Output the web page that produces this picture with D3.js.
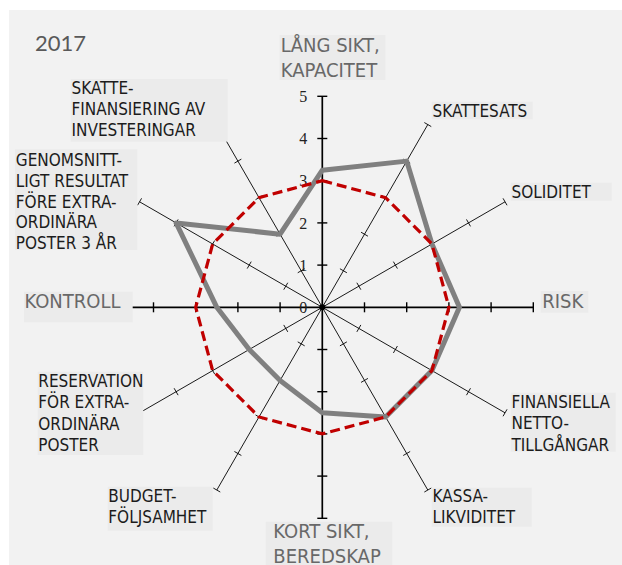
<!DOCTYPE html>
<html>
<head>
<meta charset="utf-8">
<script src="https://cdn.jsdelivr.net/npm/d3@7"></script>
<style>
  body { margin: 0; background: #fff; }
  svg { display: block; }
</style>
</head>
<body>
<svg class="radar" width="622" height="565"></svg>
<script>
// Data
const year = "2017";
const categories = [
    ["LÅNG SIKT,", "KAPACITET"],
    ["SKATTESATS"],
    ["SOLIDITET"],
    ["RISK"],
    ["FINANSIELLA", "NETTO-", "TILLGÅNGAR"],
    ["KASSA-", "LIKVIDITET"],
    ["KORT SIKT,", "BEREDSKAP"],
    ["BUDGET-", "FÖLJSAMHET"],
    ["RESERVATION", "FÖR EXTRA-", "ORDINÄRA", "POSTER"],
    ["KONTROLL"],
    ["GENOMSNITT-", "LIGT RESULTAT", "FÖRE EXTRA-", "ORDINÄRA", "POSTER 3 ÅR"],
    ["SKATTE-", "FINANSIERING AV", "INVESTERINGAR"]
];
const majorAxes = [0, 3, 6, 9];
const values2017 = [3.25, 4, 3, 3.25, 3, 3, 2.5, 2, 2, 2.5, 4, 2];
const valuesTarget = [3, 3, 3, 3, 3, 3, 3, 3, 3, 3, 3, 3];
const tickValues = [0, 1, 2, 3, 4, 5];

// Label boxes (layout only)
const labelLayout = [
    { x: 279.5, y: 35, w: 106, h: 45, tx: 280.7, by: 52, lh: 25 },
    { x: 431.7, y: 101.7, w: 101, h: 17.6, tx: 432.5, by: 116.7, lh: 21 },
    { x: 510.7, y: 182.7, w: 101, h: 18, tx: 511.5, by: 197.5, lh: 21 },
    { x: 540.7, y: 291, w: 47.6, h: 21.7, tx: 542.3, by: 307.5, lh: 25 },
    { x: 510.7, y: 392.7, w: 105, h: 59, tx: 511.5, by: 407.5, lh: 21.7 },
    { x: 431.7, y: 487.7, w: 100, h: 39, tx: 432.5, by: 502, lh: 20.7 },
    { x: 265.7, y: 521.7, w: 126.6, h: 43.3, tx: 273.3, by: 538, lh: 24.5 },
    { x: 107.7, y: 486.7, w: 105, h: 44, tx: 108.3, by: 501.7, lh: 21 },
    { x: 37.7, y: 371.7, w: 105.6, h: 83.3, tx: 38.3, by: 387.3, lh: 21.1 },
    { x: 24, y: 291.7, w: 108.7, h: 30.6, tx: 24.5, by: 308.3, lh: 25 },
    { x: 15, y: 149.3, w: 122.3, h: 100.7, tx: 15.8, by: 166, lh: 20.8 },
    { x: 70.7, y: 79, w: 157, h: 62.7, tx: 71.5, by: 94, lh: 21 }
];

const cx = 322.3, cy = 307.3;
const radius = 211;
const n = categories.length;
const font = "'DejaVu Sans Condensed', Lato, sans-serif";

const svg = d3.select(".radar");

// Background panel
svg.append("rect")
    .attr("x", 9).attr("y", 10)
    .attr("width", 613).attr("height", 555)
    .attr("fill", "#f2f2f2");

const r = d3.scaleLinear().domain([0, 5]).range([0, radius]);
const angle = i => i * 2 * Math.PI / n;
const px = (i, v) => cx + Math.sin(angle(i)) * r(v);
const py = (i, v) => cy - Math.cos(angle(i)) * r(v);

const g = svg.append("g");

// Axes
d3.range(n).forEach(i => {
    const major = majorAxes.includes(i);
    const a = angle(i);
    const sw = major ? 1.7 : 0.9;
    const len = major ? 5 : 4;
    g.append("line")
        .attr("x1", cx).attr("y1", cy)
        .attr("x2", px(i, 5)).attr("y2", py(i, 5))
        .attr("stroke", "#000")
        .attr("stroke-width", sw);
    // perpendicular ticks
    const nx = Math.cos(a), ny = Math.sin(a);
    tickValues.filter(t => t > 0).forEach(t => {
        g.append("line")
            .attr("x1", px(i, t) - nx * len).attr("y1", py(i, t) - ny * len)
            .attr("x2", px(i, t) + nx * len).attr("y2", py(i, t) + ny * len)
            .attr("stroke", "#000")
            .attr("stroke-width", major ? 1.4 : 0.9);
    });
});

// Tick labels on the vertical axis
g.selectAll(".tick-label")
    .data(tickValues)
    .join("text")
    .attr("class", "tick-label")
    .attr("x", cx - 15)
    .attr("y", d => cy - r(d))
    .attr("dy", "0.35em")
    .attr("text-anchor", "end")
    .attr("font-family", "'Liberation Serif', 'Times New Roman', serif")
    .attr("font-size", "16px")
    .attr("fill", "#222")
    .text(d => d);

g.append("circle")
    .attr("cx", cx).attr("cy", cy).attr("r", 3)
    .attr("fill", "#000");

// Series
const line = d3.lineRadial()
    .angle((d, i) => angle(i))
    .radius(d => r(d))
    .curve(d3.curveLinearClosed);

g.append("path")
    .datum(values2017)
    .attr("transform", `translate(${cx},${cy})`)
    .attr("d", line)
    .attr("fill", "none")
    .attr("stroke", "#808080")
    .attr("stroke-width", 5)
    .attr("stroke-linejoin", "round");

g.append("path")
    .datum(valuesTarget)
    .attr("transform", `translate(${cx},${cy})`)
    .attr("d", line)
    .attr("fill", "none")
    .attr("stroke", "#c00000")
    .attr("stroke-width", 3.2)
    .attr("stroke-dasharray", "10,5");

// Category labels
const labels = svg.selectAll(".cat-label")
    .data(categories)
    .join("g")
    .attr("class", "cat-label");

labels.append("rect")
    .attr("x", (d, i) => labelLayout[i].x)
    .attr("y", (d, i) => labelLayout[i].y)
    .attr("width", (d, i) => labelLayout[i].w)
    .attr("height", (d, i) => labelLayout[i].h)
    .attr("fill", "#ebebeb");

labels.each(function (lines, i) {
    const major = majorAxes.includes(i);
    const L = labelLayout[i];
    d3.select(this).append("text")
        .attr("font-family", font)
        .attr("font-size", major ? "20px" : "17px")
        .attr("fill", major ? "#686868" : "#1c1c1c")
        .selectAll("tspan")
        .data(lines)
        .join("tspan")
        .attr("x", L.tx)
        .attr("y", (d, j) => L.by + j * L.lh)
        .text(d => d);
});

svg.append("text")
    .attr("x", 35).attr("y", 51)
    .attr("font-family", "Lato, sans-serif")
    .attr("font-size", "22px")
    .attr("fill", "#595959")
    .text(year);
</script>
</body>
</html>
